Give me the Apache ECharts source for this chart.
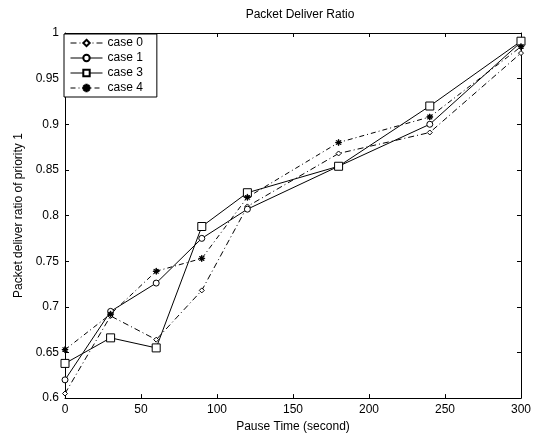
<!DOCTYPE html>
<html>
<head>
<meta charset="utf-8">
<script src="https://cdn.jsdelivr.net/npm/echarts@6/dist/echarts.min.js"></script>
<style>
html,body{margin:0;padding:0;background:#fff;}
#chart{width:534px;height:438px;}
</style>
</head>
<body>
<div id="chart"></div>
<script>
var pauseTime = [0, 30, 60, 90, 120, 180, 240, 300];
var case0 = [0.605, 0.690, 0.664, 0.718, 0.810, 0.868, 0.891, 0.978];
var case1 = [0.620, 0.695, 0.726, 0.775, 0.807, 0.854, 0.900, 0.990];
var case3 = [0.638, 0.666, 0.655, 0.788, 0.825, 0.854, 0.920, 0.991];
var case4 = [0.653, 0.692, 0.739, 0.753, 0.820, 0.880, 0.908, 0.985];
var seriesNames = ['case 0', 'case 1', 'case 3', 'case 4'];
var titleText = 'Packet Deliver Ratio';
var xLabel = 'Pause Time (second)';
var yLabel = 'Packet deliver ratio of priority 1';

var FONT = 'Liberation Sans, Arial, sans-serif';
var starPath = 'path://M4.6,0h0.8v10h-0.8z M0,4.6h10v0.8h-10z M1.2,1.8L1.8,1.2L8.8,8.2L8.2,8.8z M8.2,1.2L8.8,1.8L1.8,8.8L1.2,8.2z';

function pairs(ys){ return pauseTime.map(function(x,i){ return [x, ys[i]]; }); }

function mk(name, ys, symbol, size, lineType, fill){
  return {
    name: name, type: 'line', data: pairs(ys),
    symbol: symbol, symbolSize: size, showSymbol: true,
    lineStyle: {color: '#000', width: 1, type: lineType},
    itemStyle: {color: fill, borderColor: '#000', borderWidth: 1},
    animation: false, z: 3
  };
}

var chart = echarts.init(document.getElementById('chart'), null, {renderer: 'canvas'});
var axisCommon = {
  axisLine: {show: true, onZero: false, lineStyle: {color: '#000', width: 1}},
  axisTick: {show: true, inside: true, length: 4, lineStyle: {color: '#000'}},
  splitLine: {show: false}
};
chart.setOption({
  backgroundColor: '#fff',
  animation: false,
  title: {
    text: titleText, left: 295, top: 4, textAlign: 'center',
    textStyle: {fontFamily: FONT, fontSize: 12, fontWeight: 'normal', color: '#000'}
  },
  legend: {
    data: seriesNames, orient: 'vertical', left: 64, top: 34,
    itemWidth: 32, itemHeight: 8, itemGap: 3,
    padding: [3, 14, 3, 6],
    lineStyle: {width: 1},
    backgroundColor: '#fff', borderColor: '#000', borderWidth: 1,
    textStyle: {fontFamily: FONT, fontSize: 12, color: '#000'}
  },
  grid: {left: 65, right: 9, top: 33, bottom: 37, containLabel: false},
  xAxis: [
    Object.assign({}, axisCommon, {
      type: 'value', min: 0, max: 300, interval: 50, position: 'bottom',
      name: xLabel, nameLocation: 'middle', nameGap: 20,
      nameTextStyle: {fontFamily: FONT, fontSize: 12, color: '#000'},
      axisLabel: {fontFamily: FONT, fontSize: 12, color: '#000', margin: 6}
    }),
    Object.assign({}, axisCommon, {
      type: 'value', min: 0, max: 300, interval: 50, position: 'top',
      axisLabel: {show: false}
    })
  ],
  yAxis: [
    Object.assign({}, axisCommon, {
      type: 'value', min: 0.6, max: 1, interval: 0.05, position: 'left',
      name: yLabel, nameLocation: 'middle', nameGap: 40, nameRotate: 90,
      nameTextStyle: {fontFamily: FONT, fontSize: 12, color: '#000'},
      axisLabel: {fontFamily: FONT, fontSize: 12, color: '#000', margin: 6,
        formatter: function(v){ return String(Math.round(v*100)/100); }}
    }),
    Object.assign({}, axisCommon, {
      type: 'value', min: 0.6, max: 1, interval: 0.05, position: 'right',
      axisLabel: {show: false}
    })
  ],
  series: [
    mk('case 0', case0, 'diamond', 5, [6, 3, 1, 3], '#fff'),
    mk('case 1', case1, 'circle', 6, 'solid', '#fff'),
    mk('case 3', case3, 'rect', 8, 'solid', '#fff'),
    mk('case 4', case4, starPath, 6, [5, 3, 1, 3], '#000')
  ]
});
</script>
</body>
</html>
